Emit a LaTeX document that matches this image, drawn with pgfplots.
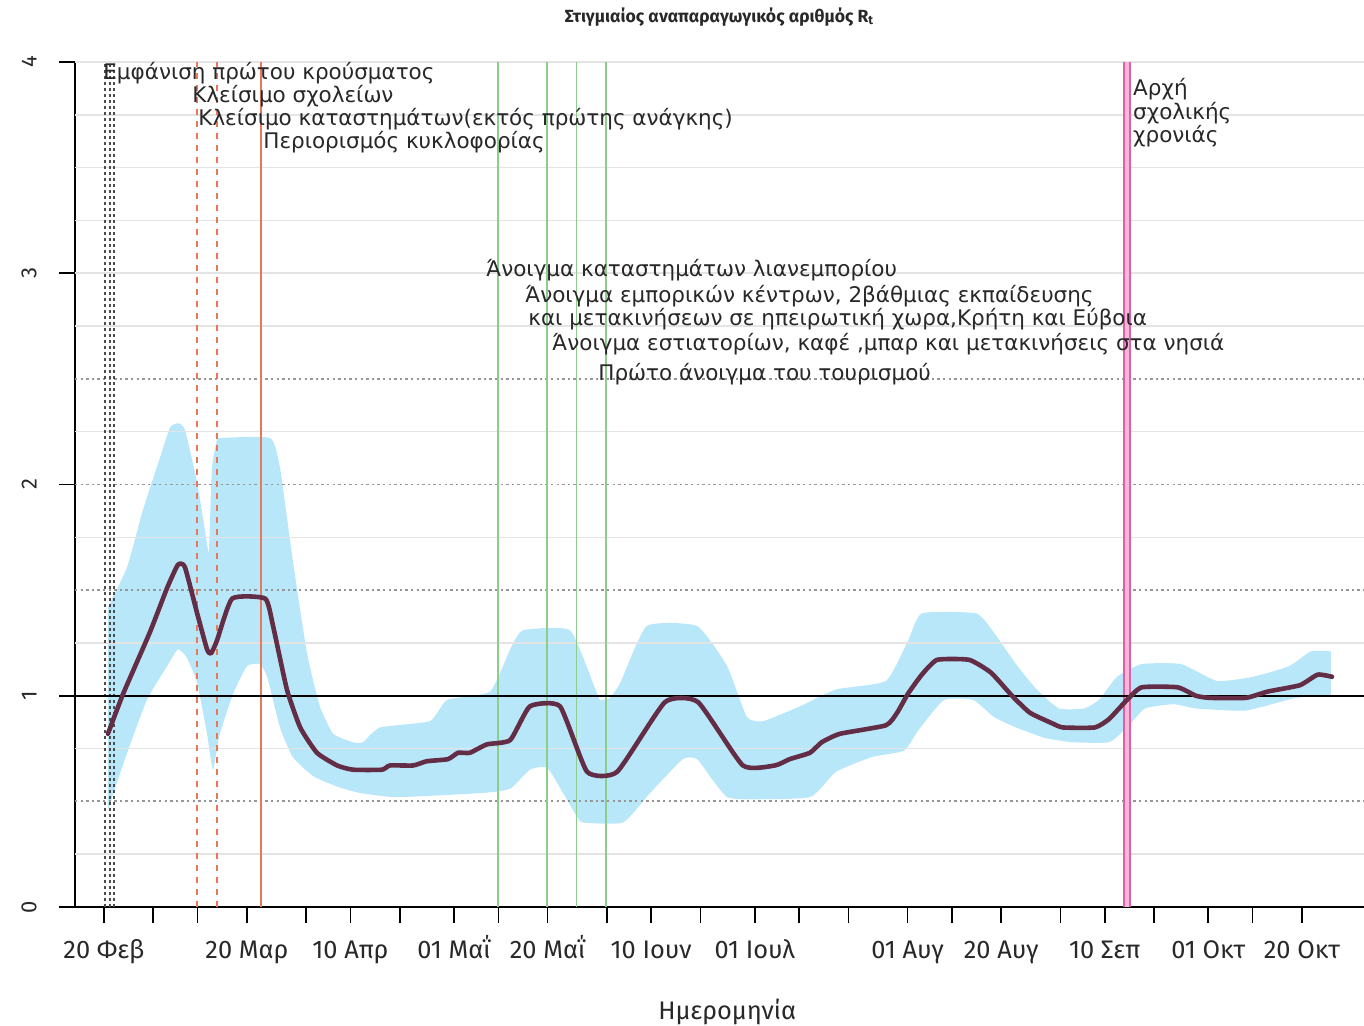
\documentclass[border=0pt]{standalone}
\usepackage{fontspec}
\setmainfont{Fira Sans}
\newfontfamily\annfont{DejaVu Sans}
\usepackage{pgfplots}
\pgfplotsset{compat=1.18}
\usepgfplotslibrary{fillbetween}
\definecolor{bandc}{RGB}{185,231,250}
\definecolor{meanc}{RGB}{100,45,70}
\definecolor{gridl}{RGB}{228,228,228}
\definecolor{gridd}{RGB}{150,150,150}
\definecolor{evgreen}{RGB}{140,205,140}
\definecolor{evorange}{RGB}{232,120,90}
\definecolor{evpink}{RGB}{225,95,170}
\definecolor{evpinkl}{RGB}{245,185,215}
\definecolor{txt}{RGB}{40,40,40}
\begin{document}
\begin{tikzpicture}
\begin{axis}[
  at={(37.5pt,59pt)}, anchor=south west,
  scale only axis, width=644.5pt, height=422.5pt,
  xmin=-5.88, xmax=255.6, ymin=0, ymax=4,
  clip=false,
  axis x line*=bottom, axis y line*=left,
  axis line style={black, line width=0.9pt, -},
  xtick={0,10,19,29,41,50,60,71,80,90,102,111,121,132,141,151,163,172,182,194,203,213,224,233,243},
  xticklabels={20 Φεβ,,,20 Μαρ,,10 Απρ,,01 Μαΐ,,20 Μαΐ,,10 Ιουν,,01 Ιουλ,,,01 Αυγ,,20 Αυγ,,10 Σεπ,,01 Οκτ,,20 Οκτ},
  ytick={0,1,2,3,4},
  tick align=outside, major tick length=8pt,
  tick style={black, line width=0.8pt},
  xticklabel shift=5pt,
  yticklabel shift=11pt,
  xticklabel style={font=\fontsize{12.7}{14}\selectfont, text=txt, text height=9pt, text depth=3pt},
  yticklabel style={font=\fontsize{11}{13}\selectfont, rotate=90, anchor=south, inner sep=0pt, text=txt},
  /pgf/number format/assume math mode=true,
  xlabel={Ημερομηνία},
  xlabel style={at={(axis description cs:0.506,0)}, anchor=center, yshift=-52.5pt, font=\fontsize{12.7}{14}\selectfont, text=txt},
  title={Στιγμιαίος αναπαραγωγικός αριθμός R\textsubscript{t}},
  title style={at={(axis description cs:0.500,1)}, anchor=center, yshift=16.5pt, font=\fontsize{8.8}{10}\selectfont\bfseries, text=txt},
]
% light grid
\pgfplotsinvokeforeach{0.25,0.75,1.25,1.75,2.25,2.75,3,3.25,3.5,3.75,4}{
  \addplot[gridl, line width=0.8pt, forget plot] coordinates {(-5.88,#1) (255.6,#1)};
}
% band
\addplot[name path=up, draw=none, smooth, tension=0.3, forget plot] coordinates {
(0.8,1.42) (4.7,1.61) (7.9,1.88) (11.4,2.13) (13.4,2.27) (15.0,2.29) (16.4,2.26) (18.9,2.01) (20.9,1.72) (21.3,1.69) (21.9,2.08) (22.9,2.21) (23.5,2.22) (33.7,2.22) (35.7,2.08) (38.3,1.64) (41.2,1.20) (43.8,0.95) (46.5,0.82) (50.5,0.78) (52.5,0.78) (56.0,0.85) (66.1,0.88) (69.6,0.98) (78.3,1.02) (82.4,1.22) (85.0,1.31) (94.5,1.31) (99.2,1.06) (100.6,0.98) (102.6,0.99) (104.7,1.06) (110.1,1.33) (120.3,1.33) (126.4,1.14) (130.4,0.90) (133.7,0.88) (141.2,0.95) (148.5,1.03) (158.6,1.07) (163.1,1.26) (165.9,1.39) (176.9,1.39) (180.5,1.30) (185.0,1.15) (189.2,1.03) (193.7,0.94) (198.8,0.94) (201.8,0.98) (205.5,1.09) (210.5,1.15) (218.5,1.15) (225.8,1.07) (233.1,1.09) (240.4,1.14) (244.8,1.21) (248.9,1.21)};
\addplot[name path=lo, draw=none, smooth, tension=0.3, forget plot] coordinates {
(0.8,0.46) (4.7,0.73) (8.7,0.98) (12.8,1.14) (15.0,1.22) (16.8,1.18) (18.9,1.06) (20.9,0.82) (22.1,0.65) (23.5,0.82) (26.2,1.01) (29.0,1.14) (31.6,1.15) (33.1,1.09) (35.7,0.85) (38.3,0.71) (42.4,0.62) (47.3,0.57) (51.9,0.54) (59.4,0.52) (76.9,0.54) (82.4,0.56) (86.4,0.65) (89.9,0.66) (93.1,0.54) (95.9,0.43) (97.2,0.40) (105.3,0.40) (110.8,0.54) (117.4,0.70) (120.3,0.70) (123.5,0.60) (126.4,0.52) (130.4,0.51) (143.2,0.52) (148.5,0.64) (155.8,0.71) (162.3,0.74) (165.3,0.84) (170.4,0.98) (176.3,0.98) (180.5,0.90) (185.0,0.85) (190.9,0.80) (196.6,0.78) (203.9,0.78) (207.5,0.85) (211.2,0.94) (217.0,0.96) (221.5,0.94) (231.6,0.93) (241.8,0.99) (248.9,1.00)};
\addplot[bandc, forget plot] fill between[of=up and lo];
% dotted grid
\pgfplotsinvokeforeach{0.5,1.5,2,2.5}{
  \addplot[gridd, line width=0.9pt, dash pattern=on 1.2pt off 1.6pt, forget plot] coordinates {(-5.88,#1) (255.6,#1)};
}
% event lines
\pgfplotsinvokeforeach{0.3,1.2,2.1}{
  \addplot[black!70, line width=1pt, dash pattern=on 1.5pt off 1.5pt, forget plot] coordinates {(#1,0) (#1,4)};
}
\addplot[evorange, line width=0.8pt, dash pattern=on 3pt off 3pt, forget plot] coordinates {(18.9,0) (18.9,4)};
\addplot[evorange, line width=0.8pt, dash pattern=on 3pt off 3pt, forget plot] coordinates {(22.9,0) (22.9,4)};
\addplot[evorange, line width=1pt, forget plot] coordinates {(31.8,0) (31.8,4)};
\pgfplotsinvokeforeach{79.9,89.9,95.9,101.8}{
  \addplot[evgreen, line width=0.7pt, forget plot] coordinates {(#1,0) (#1,4)};
}
\addplot[evpinkl, line width=4.2pt, forget plot] coordinates {(207.5,0) (207.5,4)};
\addplot[evpink, line width=1.1pt, forget plot] coordinates {(206.9,0) (206.9,4)};
\addplot[evpink, line width=1.1pt, forget plot] coordinates {(208.1,0) (208.1,4)};
% R = 1
\addplot[black, line width=1.2pt, forget plot] coordinates {(-5.88,1) (255.6,1)};
% mean
\addplot[meanc, line width=2.3pt, line join=round, line cap=round, smooth, tension=0.3] coordinates {
(0.8,0.82) (3.9,1.01) (9.3,1.30) (12.8,1.51) (15.0,1.62) (16.4,1.61) (18.9,1.39) (20.9,1.22) (21.7,1.20) (22.9,1.26) (26.0,1.46) (32.7,1.46) (34.3,1.33) (37.1,1.03) (39.8,0.85) (43.2,0.73) (47.3,0.67) (50.5,0.65) (56.4,0.65) (58.0,0.67) (62.7,0.67) (65.5,0.69) (69.8,0.70) (71.8,0.73) (74.2,0.73) (77.7,0.77) (82.4,0.79) (86.4,0.95) (92.5,0.95) (98.0,0.64) (104.1,0.64) (113.8,0.97) (120.5,0.97) (129.6,0.67) (136.1,0.67) (139.1,0.70) (143.2,0.73) (145.6,0.78) (149.3,0.82) (158.6,0.86) (160.9,0.92) (163.1,1.01) (165.9,1.10) (169.0,1.17) (175.5,1.17) (179.9,1.11) (184.2,1.00) (187.8,0.92) (192.3,0.87) (194.5,0.85) (201.0,0.85) (203.9,0.89) (207.5,0.98) (210.5,1.04) (217.8,1.04) (221.5,1.00) (224.3,0.99) (231.6,0.99) (236.1,1.02) (242.6,1.05) (246.2,1.10) (249.1,1.09)};
% annotations
\begin{scope}[every node/.style={anchor=west, inner sep=0pt, text=txt, font=\annfont\fontsize{10.75}{10.5}\selectfont}]
\node at (axis cs:-0.2,3.948) {Εμφάνιση πρώτου κρούσματος};
\node at (axis cs:17.85,3.839) {Κλείσιμο σχολείων};
\node at (axis cs:19.07,3.730) {Κλείσιμο καταστημάτων(εκτός πρώτης ανάγκης)};
\node at (axis cs:32.25,3.621) {Περιορισμός κυκλοφορίας};
\node at (axis cs:77.5,3.015) {Άνοιγμα καταστημάτων λιανεμπορίου};
\node at (axis cs:85.4,2.892) {Άνοιγμα εμπορικών κέντρων, 2βάθμιας εκπαίδευσης};
\node at (axis cs:86.0,2.783) {και μετακινήσεων σε ηπειρωτική χωρα,Κρήτη και Εύβοια};
\node at (axis cs:90.9,2.665) {Άνοιγμα εστιατορίων, καφέ ,μπαρ και μετακινήσεις στα νησιά};
\node at (axis cs:100.2,2.523) {Πρώτο άνοιγμα του τουρισμού};
\node[align=left] at (axis cs:208.7,3.759) {Αρχή\\σχολικής\\χρονιάς};
\end{scope}
\end{axis}
\pgfresetboundingbox
\path[use as bounding box] (0,0) rectangle (682pt,512.5pt);
\end{tikzpicture}
\end{document}
